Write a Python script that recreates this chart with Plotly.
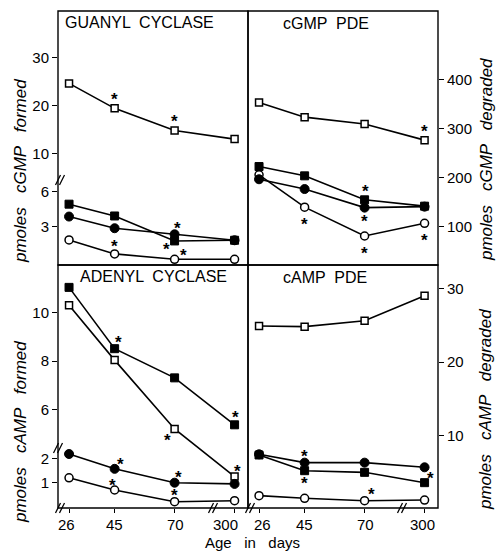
import plotly.graph_objects as go

# ---------------- data ----------------
ages = [26, 45, 70, 300]
age_labels = ["26", "45", "70", "300"]

# GUANYL CYCLASE  (pmoles cGMP formed)
gc_open_sq = [24.7, 19.5, 14.9, 13.1]      # upper (broken) scale
gc_fill_sq = [4.95, 3.94, 1.80, 1.86]
gc_fill_ci = [3.89, 2.89, 2.37, 1.86]
gc_open_ci = [1.89, 0.69, 0.23, 0.23]

# cGMP PDE  (pmoles cGMP degraded)
gp_open_sq = [354, 324, 310, 277]
gp_fill_sq = [223, 204, 155, 142]
gp_fill_ci = [197, 177, 139, 141]
gp_open_ci = [206, 140, 81, 107]

# ADENYL CYCLASE  (pmoles cAMP formed)
ac_fill_sq = [11.03, 8.51, 7.31, 5.38]     # upper (broken) scale
ac_open_sq = [10.30, 8.04, 5.21, 3.25]     # upper (broken) scale
ac_fill_ci = [2.18, 1.57, 1.00, 0.95]
ac_open_ci = [1.20, 0.70, 0.22, 0.26]

# cAMP PDE  (pmoles cAMP degraded)
ap_open_sq = [24.9, 24.8, 25.6, 29.0]
ap_fill_ci = [7.52, 6.39, 6.39, 5.76]
ap_fill_sq = [7.43, 5.30, 5.08, 3.68]
ap_open_ci = [1.92, 1.56, 1.24, 1.33]

# ---------------- broken-axis transforms ----------------
def xpos(a):
    # age axis is broken between 70 and 300 days
    return a if a <= 70 else 95

def tl_upper(v):
    # upper segment of guanyl cyclase axis (compressed scale)
    return 9.25 + (v - 10) * 0.4114

def bl_upper(v):
    # upper segment of adenyl cyclase axis (same scale, shifted)
    return v - 2

X = [xpos(a) for a in ages]

FONT = "Liberation Sans"
fig = go.Figure()

OPEN_SQ = dict(symbol="square", size=7, color="white", line=dict(color="black", width=1.5))
FILL_SQ = dict(symbol="square", size=8, color="black", line=dict(color="black", width=1))
OPEN_CI = dict(symbol="circle", size=8, color="white", line=dict(color="black", width=1.5))
FILL_CI = dict(symbol="circle", size=9, color="black", line=dict(color="black", width=1))

def add(vals, marker, xa, ya, f=None):
    y = [f(v) for v in vals] if f else list(vals)
    fig.add_trace(go.Scatter(x=X, y=y, mode="lines+markers", xaxis=xa, yaxis=ya,
                             line=dict(color="black", width=1.6), marker=marker,
                             showlegend=False, hoverinfo="skip", cliponaxis=False))
    return y

d = {}
d["gc_os"] = add(gc_open_sq, OPEN_SQ, "x", "y", tl_upper)
d["gc_fs"] = add(gc_fill_sq, FILL_SQ, "x", "y")
d["gc_fc"] = add(gc_fill_ci, FILL_CI, "x", "y")
d["gc_oc"] = add(gc_open_ci, OPEN_CI, "x", "y")

d["gp_os"] = add(gp_open_sq, OPEN_SQ, "x2", "y2")
d["gp_oc"] = add(gp_open_ci, OPEN_CI, "x2", "y2")
d["gp_fc"] = add(gp_fill_ci, FILL_CI, "x2", "y2")
d["gp_fs"] = add(gp_fill_sq, FILL_SQ, "x2", "y2")

d["ac_fs"] = add(ac_fill_sq, FILL_SQ, "x3", "y3", bl_upper)
d["ac_os"] = add(ac_open_sq, OPEN_SQ, "x3", "y3", bl_upper)
d["ac_fc"] = add(ac_fill_ci, FILL_CI, "x3", "y3")
d["ac_oc"] = add(ac_open_ci, OPEN_CI, "x3", "y3")

d["ap_os"] = add(ap_open_sq, OPEN_SQ, "x4", "y4")
d["ap_fc"] = add(ap_fill_ci, FILL_CI, "x4", "y4")
d["ap_fs"] = add(ap_fill_sq, FILL_SQ, "x4", "y4")
d["ap_oc"] = add(ap_open_ci, OPEN_CI, "x4", "y4")

# significance asterisks: (series, age index, panel axes, xshift, yshift)
stars = [
    ("gc_os", 1, "x", "y", 0, 13), ("gc_os", 2, "x", "y", 0, 13),
    ("gc_fc", 2, "x", "y", 3, 10), ("gc_fs", 2, "x", "y", -8, -5),
    ("gc_oc", 2, "x", "y", 9, 8), ("gc_oc", 1, "x", "y", 0, 11),
    ("gp_os", 3, "x2", "y2", 0, 13), ("gp_oc", 1, "x2", "y2", 0, -13),
    ("gp_fs", 2, "x2", "y2", 1, 12), ("gp_fc", 2, "x2", "y2", 0, -10),
    ("gp_oc", 2, "x2", "y2", 0, -13), ("gp_oc", 3, "x2", "y2", 0, -13),
    ("ac_fs", 1, "x3", "y3", 4, 10), ("ac_fs", 3, "x3", "y3", 1, 11),
    ("ac_os", 2, "x3", "y3", -7, -8), ("ac_os", 3, "x3", "y3", 3, 9),
    ("ac_fc", 1, "x3", "y3", 6, 8), ("ac_oc", 1, "x3", "y3", -2, 9),
    ("ac_fc", 2, "x3", "y3", 4, 9), ("ac_oc", 2, "x3", "y3", 0, 10),
    ("ap_fc", 1, "x4", "y4", 0, 10), ("ap_fs", 1, "x4", "y4", 0, -9),
    ("ap_oc", 2, "x4", "y4", 7, 10), ("ap_fs", 3, "x4", "y4", 6, 8),
]
STAR_FIX = -4   # the "*" glyph sits above the middle of its text box
ann = []
for key, i, xa, ya, xs, ys in stars:
    ann.append(dict(x=X[i], y=d[key][i], xref=xa, yref=ya, text="<b>*</b>", showarrow=False,
                    xshift=xs, yshift=ys + STAR_FIX,
                    font=dict(family=FONT, size=17, color="black")))

# layout geometry (pixels)
L, R, T, B = 58, 438, 11, 508
W, H = R - L, B - T
def pp(px, py):
    return (px - L) / W, (B - py) / H

SPLIT = pp(0, 265)[1]

# x tick labels (drawn at the tick values, nudged like the original lettering)
label_y = pp(0, 524)[1]
for xa, shifts in [("x3", [-3, 0, 1, -9]), ("x4", [3, 0, 1, -2])]:
    for i, lab in enumerate(age_labels):
        ann.append(dict(x=X[i], y=label_y, xref=xa, yref="paper", text=lab, showarrow=False,
                        xanchor="center", yanchor="middle", xshift=shifts[i],
                        font=dict(family=FONT, size=15, color="black")))

# panel titles
for txt, px, py in [("GUANYL  CYCLASE", 63, 22), ("cGMP  PDE", 281, 23),
                    ("ADENYL  CYCLASE", 78, 276), ("cAMP  PDE", 281, 277)]:
    x, y = pp(px, py)
    ann.append(dict(x=x, y=y, xref="paper", yref="paper", xanchor="left", yanchor="middle",
                    text=txt, showarrow=False, font=dict(family=FONT, size=16, color="black")))

# axis titles
for txt, px, py in [("pmoles   cGMP   formed", 20, 171), ("pmoles   cAMP   formed", 20, 432),
                    ("pmoles   cGMP   degraded", 487, 160), ("pmoles   cAMP   degraded", 485, 410)]:
    x, y = pp(px, py)
    ann.append(dict(x=x, y=y, xref="paper", yref="paper", xanchor="center", yanchor="middle",
                    text="<i>" + txt + "</i>", textangle=-90, showarrow=False,
                    font=dict(family=FONT, size=17, color="black")))
x, y = pp(252, 542)
ann.append(dict(x=x, y=y, xref="paper", yref="paper", xanchor="center", yanchor="middle",
                text="Age   in   days", showarrow=False,
                font=dict(family=FONT, size=15, color="black")))

# panel frames
shapes = []
for x0p, x1p, y0p, y1p in [(L, 248, T, 265), (248, R, T, 265), (L, 248, 265, B), (248, R, 265, B)]:
    a0, b0 = pp(x0p, y1p)
    a1, b1 = pp(x1p, y0p)
    shapes.append(dict(type="rect", xref="paper", yref="paper", x0=a0, y0=b0, x1=a1, y1=b1,
                       line=dict(color="black", width=1.4)))

# axis break marks "//"
for cx, cy in [(60, 180), (58, 448), (60, 508), (213, 508), (250, 508), (402, 508)]:
    for dx in (-2, 2):
        x0, y0 = pp(cx + dx - 2.5, cy + 5)
        x1, y1 = pp(cx + dx + 2.5, cy - 5)
        shapes.append(dict(type="line", xref="paper", yref="paper", x0=x0, y0=y0, x1=x1, y1=y1,
                           line=dict(color="black", width=1.3)))

tickfont = dict(family=FONT, size=15, color="black")
common_x = dict(range=[21.4, 100.6], showgrid=False, zeroline=False, showline=False)
common_y = dict(showgrid=False, zeroline=False, showline=False,
                ticks="outside", ticklen=5, tickwidth=1.3, tickcolor="black",
                tickfont=tickfont)

fig.update_layout(
    width=496, height=553, margin=dict(l=L, r=496 - R, t=T, b=553 - B),
    paper_bgcolor="white", plot_bgcolor="white", showlegend=False,
    xaxis=dict(domain=[0, 0.5], anchor="y", showticklabels=False, ticks="", **common_x),
    xaxis2=dict(domain=[0.5, 1], anchor="y2", showticklabels=False, ticks="", **common_x),
    xaxis3=dict(domain=[0, 0.5], anchor="y3", tickvals=X, showticklabels=False, ticks="outside",
                ticklen=4, tickwidth=1.3, tickcolor="black", **common_x),
    xaxis4=dict(domain=[0.5, 1], anchor="y4", tickvals=X, showticklabels=False, ticks="outside",
                ticklen=4, tickwidth=1.3, tickcolor="black", **common_x),
    yaxis=dict(domain=[SPLIT, 1], anchor="x", range=[-0.26, 21.5], side="left",
               tickvals=[3, 6, tl_upper(10), tl_upper(20), tl_upper(30)],
               ticktext=["3", "6", "10", "20", "30"], **common_y),
    yaxis2=dict(domain=[SPLIT, 1], anchor="x2", range=[21.7, 541], side="right",
                tickvals=[100, 200, 300, 400], **common_y),
    yaxis3=dict(domain=[0, SPLIT], anchor="x3", range=[-0.04, 9.95], side="left",
                tickvals=[1, 2, bl_upper(6), bl_upper(8), bl_upper(10)],
                ticktext=["1", "2", "6", "8", "10"], **common_y),
    yaxis4=dict(domain=[0, SPLIT], anchor="x4", range=[0.25, 33.15], side="right",
                tickvals=[10, 20, 30], **common_y),
    annotations=ann, shapes=shapes,
)

fig.write_html("out.html", config={"displayModeBar": False},
               post_script="document.body.style.margin='0';")
